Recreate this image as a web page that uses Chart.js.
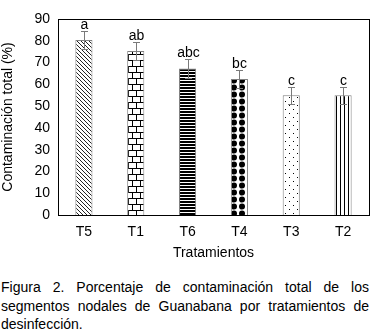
<!DOCTYPE html>
<html>
<head>
<meta charset="utf-8">
<script src="https://cdn.jsdelivr.net/npm/chart.js@4.4.0/dist/chart.umd.min.js"></script>
<style>
  body { margin: 0; background: #fff; width: 377px; height: 336px; overflow: hidden; }
  #wrap { position: relative; width: 377px; height: 262px; }
  .caption {
    position: absolute; left: 1px; top: 278px; width: 368px;
    font-family: Arial, "Liberation Sans", sans-serif; font-size: 14px; line-height: 18.5px;
    color: #000;
  }
  .caption span { display: block; text-align: justify; text-align-last: justify; white-space: nowrap; }
  .caption span.fin { text-align-last: left; }
</style>
</head>
<body>
<div id="wrap"><canvas id="grafico" width="377" height="262"></canvas></div>
<div class="caption"><span>Figura 2. Porcentaje de contaminación total de los</span><span>segmentos nodales de Guanabana por tratamientos de</span><span class="fin">desinfección.</span></div>
<script>
// Datos del gráfico
const tratamientos = ["T5", "T1", "T6", "T4", "T3", "T2"];
const contaminacion = [80.3, 75.3, 67.3, 62.4, 55, 55];
const errores = [4.3, 4, 4.3, 4, 3.9, 4];
const letras = ["a", "ab", "abc", "bc", "c", "c"];
const yTicks = [0, 10, 20, 30, 40, 50, 60, 70, 80, 90];

const fuente = "Arial, 'Liberation Sans', sans-serif";

// Crea los patrones de relleno de cada barra
function crearPatron(tipo) {
    const c = document.createElement("canvas");
    const g = c.getContext("2d");
    if (tipo === "diagonal") {
        c.width = 4; c.height = 4;
        g.fillStyle = "#fff"; g.fillRect(0, 0, 4, 4);
        g.fillStyle = "#222";
        for (let i = 0; i < 4; i++) g.fillRect(i, i, 1, 1);
    } else if (tipo === "ladrillo") {
        c.width = 8; c.height = 12;
        g.fillStyle = "#fff"; g.fillRect(0, 0, 8, 12);
        g.fillStyle = "#000";
        g.fillRect(0, 0, 8, 1);
        g.fillRect(0, 6, 8, 1);
        g.fillRect(4, 0, 1, 6);
        g.fillRect(0, 6, 1, 6);
    } else if (tipo === "horizontal") {
        c.width = 4; c.height = 3;
        g.fillStyle = "#fff"; g.fillRect(0, 0, 4, 3);
        g.fillStyle = "#000"; g.fillRect(0, 0, 4, 2);
    } else if (tipo === "diamante") {
        c.width = 8; c.height = 7;
        g.fillStyle = "#fff"; g.fillRect(0, 0, 8, 7);
        g.fillStyle = "#000";
        g.beginPath(); g.arc(2, 3.5, 3, 0, Math.PI * 2); g.fill();
        g.beginPath(); g.arc(10, 3.5, 3, 0, Math.PI * 2); g.fill();
    } else if (tipo === "puntos") {
        c.width = 8; c.height = 8;
        g.fillStyle = "#fff"; g.fillRect(0, 0, 8, 8);
        g.fillStyle = "#000";
        g.fillRect(1, 1, 1, 1);
        g.fillRect(5, 5, 1, 1);
    } else if (tipo === "vertical") {
        c.width = 4; c.height = 4;
        g.fillStyle = "#fff"; g.fillRect(0, 0, 4, 4);
        g.fillStyle = "#000"; g.fillRect(0, 0, 1, 4);
    }
    return g.createPattern(c, "repeat");
}

const ctx = document.getElementById("grafico").getContext("2d");
const patrones = ["diagonal", "ladrillo", "horizontal", "diamante", "puntos", "vertical"].map(crearPatron);

// Barras de error, letras y marco
const extras = {
    id: "extras",
    afterDatasetsDraw(chart) {
        const g = chart.ctx;
        const y = chart.scales.y;
        const meta = chart.getDatasetMeta(0);
        g.save();
        meta.data.forEach((barra, i) => {
            const x = Math.round(barra.x) + 0.5;
            const arriba = Math.round(y.getPixelForValue(contaminacion[i] + errores[i])) + 0.5;
            const abajo = Math.round(y.getPixelForValue(contaminacion[i] - errores[i])) + 0.5;
            g.strokeStyle = "#7a7a7a";
            g.lineWidth = 1;
            g.beginPath();
            g.moveTo(x, arriba); g.lineTo(x, abajo);
            g.moveTo(x - 3.5, arriba); g.lineTo(x + 3.5, arriba);
            g.moveTo(x - 3.5, abajo); g.lineTo(x + 3.5, abajo);
            g.stroke();
            g.fillStyle = "#000";
            g.font = "14px " + fuente;
            g.textAlign = "center";
            g.textBaseline = "alphabetic";
            g.fillText(letras[i], x, arriba - 3);
        });
        const a = chart.chartArea;
        g.strokeStyle = "#000";
        g.lineWidth = 1;
        g.strokeRect(Math.round(a.left) + 0.5, Math.round(a.top) + 0.5, Math.round(a.right - a.left), Math.round(a.bottom - a.top));
        g.restore();
    }
};

new Chart(ctx, {
    type: "bar",
    data: {
        labels: tratamientos,
        datasets: [{
            data: contaminacion,
            backgroundColor: patrones,
            borderColor: "#808080",
            borderWidth: 1,
            barPercentage: 0.66,
            categoryPercentage: 0.5
        }]
    },
    options: {
        responsive: false,
        animation: false,
        layout: { padding: { left: 0, right: 8, top: 19, bottom: 0 } },
        plugins: { legend: { display: false }, tooltip: { enabled: false } },
        scales: {
            x: {
                grid: { display: false, drawTicks: false },
                border: { display: false },
                ticks: { color: "#000", font: { family: fuente, size: 14 }, padding: 9 },
                title: { display: true, text: "Tratamientos", color: "#000", font: { family: fuente, size: 14 }, padding: { top: 3, bottom: 0 } },
                afterFit: (s) => { s.height = 47; }
            },
            y: {
                min: 0, max: 90,
                grid: { display: false, drawTicks: false },
                border: { display: false },
                afterBuildTicks: (s) => { s.ticks = yTicks.map(v => ({ value: v })); },
                ticks: { color: "#000", font: { family: fuente, size: 14 }, padding: 8 },
                title: { display: true, text: "Contaminación total (%)", color: "#000", font: { family: fuente, size: 14 }, padding: { top: 0, bottom: 0 } },
                afterFit: (s) => { s.width = 58; }
            }
        }
    },
    plugins: [extras]
});
</script>
</body>
</html>
